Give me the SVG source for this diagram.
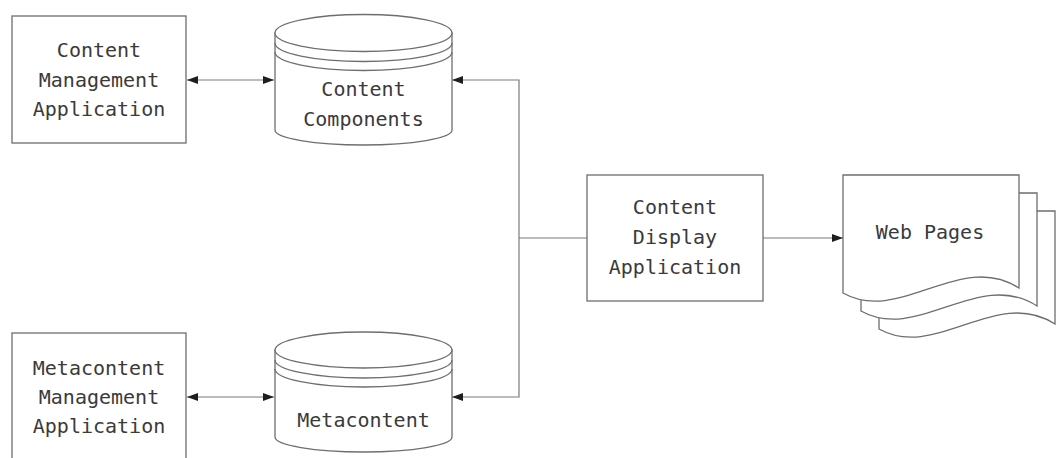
<svg xmlns="http://www.w3.org/2000/svg" xmlns:xlink="http://www.w3.org/1999/xlink" width="1056" height="458" viewBox="0 0 1056 458">
  <style>
    .shape { fill: #ffffff; stroke: #6e6e6e; stroke-width: 1.3; }
    .line { fill: none; stroke: #6e6e6e; stroke-width: 1.3; }
    .wire { fill: none; stroke: #7a7a7a; stroke-width: 1.2; }
    .label { font-family: "DejaVu Sans Mono", "Liberation Mono", monospace; font-size: 20px; fill: #3a3a3a; text-anchor: middle; }
  </style>
  <defs>
    <marker id="arrow" viewBox="0 0 11 8" refX="11" refY="4" markerWidth="11" markerHeight="8" markerUnits="userSpaceOnUse" orient="auto-start-reverse">
      <path d="M0,0 L11,4 L0,8 Z" fill="#1e1e1e"/>
    </marker>
    <!-- one sheet of the page stack, with a wavy bottom edge -->
    <path id="sheet" d="M843,175 H1019 V288 C960,250 900,325 843,293 Z"/>
  </defs>

  <rect width="1056" height="458" fill="#ffffff"/>

  <!-- connectors -->
  <g id="connectors">
    <path class="wire" d="M187,80 H274" marker-start="url(#arrow)" marker-end="url(#arrow)"/>
    <path class="wire" d="M187,397 H274" marker-start="url(#arrow)" marker-end="url(#arrow)"/>
    <path class="wire" d="M452,80 H519 V397 H452" marker-start="url(#arrow)" marker-end="url(#arrow)"/>
    <path class="wire" d="M519,238 H587"/>
    <path class="wire" d="M763,238 H843" marker-end="url(#arrow)"/>
  </g>

  <!-- Content Management Application -->
  <g id="content-mgmt-app">
    <rect class="shape" x="12" y="16" width="174" height="127"/>
    <text class="label" x="99" y="57">Content</text>
    <text class="label" x="99" y="86.5">Management</text>
    <text class="label" x="99" y="116">Application</text>
  </g>

  <!-- Content Components store -->
  <g id="content-components">
    <path class="shape" d="M275,33 V130 A88.5,15 0 0 0 452,130 V33 Z"/>
    <ellipse class="shape" cx="363.5" cy="33" rx="88.5" ry="18.5"/>
    <path class="line" d="M275,43 A88.5,18.5 0 0 0 452,43"/>
    <path class="line" d="M275,52 A88.5,18.5 0 0 0 452,52"/>
    <text class="label" x="363.5" y="96">Content</text>
    <text class="label" x="363.5" y="126">Components</text>
  </g>

  <!-- Metacontent Management Application -->
  <g id="metacontent-mgmt-app">
    <rect class="shape" x="12" y="333" width="174" height="127"/>
    <text class="label" x="99" y="375">Metacontent</text>
    <text class="label" x="99" y="404">Management</text>
    <text class="label" x="99" y="433">Application</text>
  </g>

  <!-- Metacontent store -->
  <g id="metacontent">
    <path class="shape" d="M275,350 V437 A88.5,15 0 0 0 452,437 V350 Z"/>
    <ellipse class="shape" cx="363.5" cy="350" rx="88.5" ry="18"/>
    <path class="line" d="M275,360 A88.5,18 0 0 0 452,360"/>
    <path class="line" d="M275,369 A88.5,18 0 0 0 452,369"/>
    <text class="label" x="363.5" y="427">Metacontent</text>
  </g>

  <!-- Content Display Application -->
  <g id="content-display-app">
    <rect class="shape" x="587" y="175" width="176" height="126"/>
    <text class="label" x="675" y="214">Content</text>
    <text class="label" x="675" y="244">Display</text>
    <text class="label" x="675" y="274">Application</text>
  </g>

  <!-- Web Pages stack -->
  <g id="web-pages">
    <use xlink:href="#sheet" class="shape" transform="translate(36,36)"/>
    <use xlink:href="#sheet" class="shape" transform="translate(18,18)"/>
    <use xlink:href="#sheet" class="shape"/>
    <text class="label" x="930" y="239">Web Pages</text>
  </g>
</svg>
